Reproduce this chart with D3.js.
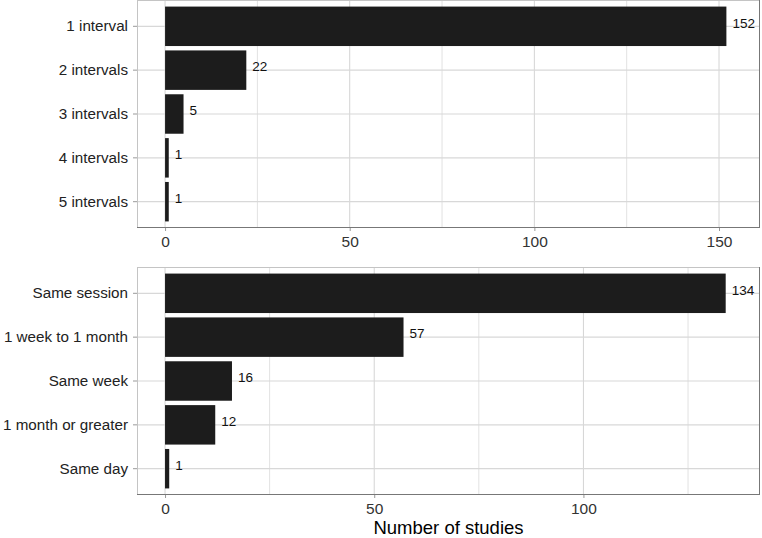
<!DOCTYPE html>
<html><head><meta charset="utf-8">
<script src="https://cdn.jsdelivr.net/npm/d3@7"></script>
<style>body{margin:0;background:#fff}svg{display:block}text{font-family:"Liberation Sans",Arial,sans-serif}</style>
</head><body><svg id="c" width="762" height="538"></svg>
<script>
const intervalCats = ["1 interval","2 intervals","3 intervals","4 intervals","5 intervals"];
const intervalVals = [152,22,5,1,1];
const timingCats = ["Same session","1 week to 1 month","Same week","1 month or greater","Same day"];
const timingVals = [134,57,16,12,1];
const xTicks = [0,50,100,150];
const xMinor = [25,75,125];
const xTitle = "Number of studies";

const svg = d3.select("#c");
const L = 137, R = 760;

function panel(cats, vals, top, bottom) {
  const maxV = d3.max(vals);
  const lo = -0.05*maxV, hi = maxV*1.05 + 1.5;
  const x = d3.scaleLinear().domain([lo, hi]).range([L, R]);
  const y = d3.scaleBand().domain(cats).range([top, bottom]).paddingInner(0.1).paddingOuter(0.15);
  const g = svg.append("g");
  g.append("rect").attr("x",L).attr("y",top).attr("width",R-L).attr("height",bottom-top).attr("fill","#fff");
  g.selectAll(".mn").data(xMinor.filter(v=>v<hi)).join("line")
    .attr("x1",d=>x(d)).attr("x2",d=>x(d)).attr("y1",top).attr("y2",bottom)
    .attr("stroke","#e2e2e2").attr("stroke-width",1);
  g.selectAll(".mj").data(xTicks.filter(v=>v<hi)).join("line")
    .attr("x1",d=>x(d)).attr("x2",d=>x(d)).attr("y1",top).attr("y2",bottom)
    .attr("stroke","#d4d4d4").attr("stroke-width",1);
  g.selectAll(".hy").data(cats).join("line")
    .attr("x1",L).attr("x2",R).attr("y1",d=>y(d)+y.bandwidth()/2).attr("y2",d=>y(d)+y.bandwidth()/2)
    .attr("stroke","#d8d8d8").attr("stroke-width",1.2);
  g.selectAll(".bar").data(vals).join("rect")
    .attr("x",x(0)).attr("y",(d,i)=>y(cats[i]))
    .attr("width",d=>x(d)-x(0)).attr("height",y.bandwidth())
    .attr("fill","#1c1c1c");
  g.selectAll(".vl").data(vals).join("text")
    .attr("x",d=>x(d)+6).attr("y",(d,i)=>y(cats[i])+y.bandwidth()/2-3.5)
    .attr("dy","0.35em").attr("font-size",13.5).attr("fill","#111").text(d=>d);
  g.append("rect").attr("x",L+0.5).attr("y",top+0.5).attr("width",R-L-1).attr("height",bottom-top-1)
    .attr("fill","none").attr("stroke","#c4c4c4");
  g.append("line").attr("x1",L).attr("x2",R).attr("y1",bottom-0.5).attr("y2",bottom-0.5).attr("stroke","#777");
  g.append("line").attr("x1",R-0.5).attr("x2",R-0.5).attr("y1",top).attr("y2",bottom).attr("stroke","#777");
  const xa = g.append("g").attr("transform",`translate(0,${bottom})`)
    .call(d3.axisBottom(x).tickValues(xTicks.filter(v=>v<hi)).tickSize(3).tickPadding(5).tickFormat(d3.format("d")));
  xa.select(".domain").remove();
  xa.selectAll("line").attr("stroke","#999");
  xa.selectAll("text").attr("font-size",15.5).attr("fill","#333").attr("font-family","Liberation Sans, Arial, sans-serif");
  const ya = g.append("g").attr("transform",`translate(${L},0)`)
    .call(d3.axisLeft(y).tickSize(4).tickPadding(5));
  ya.select(".domain").remove();
  ya.selectAll("line").attr("stroke","#999");
  ya.selectAll("text").attr("font-size",15.2).attr("fill","#222").attr("font-family","Liberation Sans, Arial, sans-serif");
  return x;
}
panel(intervalCats, intervalVals, 0, 228);
panel(timingCats, timingVals, 267, 495);
svg.append("text").attr("x",(L+R)/2).attr("y",534).attr("text-anchor","middle")
  .attr("font-size",18.5).attr("fill","#000").text(xTitle);
</script></body></html>
